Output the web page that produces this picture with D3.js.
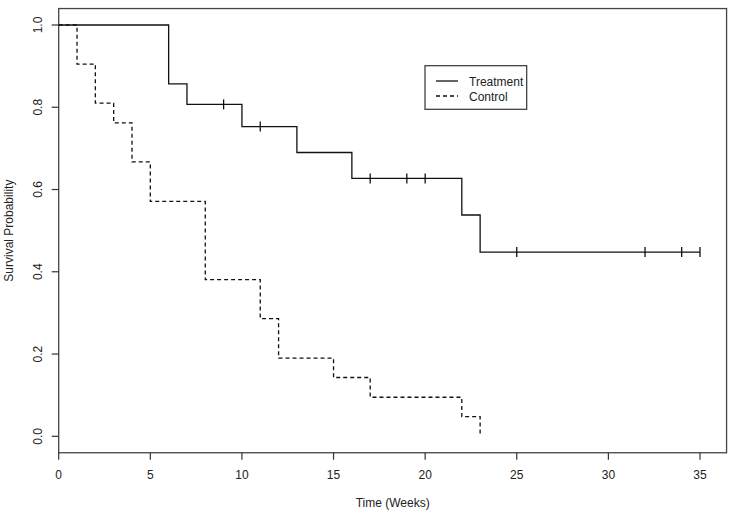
<!DOCTYPE html>
<html><head><meta charset="utf-8">
<script src="https://cdn.jsdelivr.net/npm/d3@7"></script>
<style>body{margin:0;background:#fff}svg{display:block}text{font-family:"Liberation Sans",Arial,sans-serif;fill:#222}</style>
</head><body>
<script>
const treatTimes = [0, 6, 7, 10, 13, 16, 22, 23, 35];
const treatSurv  = [1.0, 0.857, 0.807, 0.753, 0.690, 0.627, 0.538, 0.448, 0.448];
const treatCensorTimes = [9, 11, 17, 19, 20, 25, 32, 34, 35];
const ctrlTimes = [0, 1, 2, 3, 4, 5, 8, 11, 12, 15, 17, 22, 23];
const ctrlSurv  = [1.0, 0.905, 0.810, 0.762, 0.667, 0.571, 0.381, 0.286, 0.190, 0.143, 0.095, 0.048, 0.0];
const xTicks = [0, 5, 10, 15, 20, 25, 30, 35];
const yTicks = [0.0, 0.2, 0.4, 0.6, 0.8, 1.0];
const seriesNames = ["Treatment", "Control"];

const W = 737, H = 514;
const svg = d3.select("body").append("svg").attr("width", W).attr("height", H);
const x = d3.scaleLinear().domain([0, 35]).range([58.7, 700]);
const y = d3.scaleLinear().domain([0, 1]).range([436.3, 25]);
const box = {l: x(0), r: x(36.45), t: y(1.04), b: y(-0.04)};

svg.append("rect").attr("x", box.l).attr("y", box.t).attr("width", box.r - box.l).attr("height", box.b - box.t)
  .attr("fill", "none").attr("stroke", "#444").attr("stroke-width", 1.3);

// x axis
const xa = svg.append("g");
xTicks.forEach(t => {
  xa.append("line").attr("x1", x(t)).attr("x2", x(t)).attr("y1", box.b).attr("y2", box.b + 7).attr("stroke", "#333").attr("stroke-width", 1.2);
  xa.append("text").attr("x", x(t)).attr("y", box.b + 26).attr("text-anchor", "middle").attr("font-size", 12).text(t);
});
// y axis
const ya = svg.append("g");
yTicks.forEach(t => {
  ya.append("line").attr("x1", box.l - 7).attr("x2", box.l).attr("y1", y(t)).attr("y2", y(t)).attr("stroke", "#333").attr("stroke-width", 1.2);
  ya.append("text").attr("transform", `translate(${box.l - 17},${y(t)}) rotate(-90)`).attr("text-anchor", "middle").attr("font-size", 12).text(t.toFixed(1));
});
svg.append("text").attr("x", (box.l + box.r) / 2).attr("y", 507).attr("text-anchor", "middle").attr("font-size", 12).text("Time (Weeks)");
svg.append("text").attr("transform", `translate(13,${(box.t + box.b) / 2}) rotate(-90)`).attr("text-anchor", "middle").attr("font-size", 12).text("Survival Probability");

const line = d3.line().x(d => x(d[0])).y(d => y(d[1])).curve(d3.curveStepAfter);
const tData = treatTimes.map((t, i) => [t, treatSurv[i]]);
const cData = ctrlTimes.map((t, i) => [t, ctrlSurv[i]]);
svg.append("path").attr("d", line(tData)).attr("fill", "none").attr("stroke", "#111").attr("stroke-width", 1.3);
svg.append("path").attr("d", line(cData)).attr("fill", "none").attr("stroke", "#111").attr("stroke-width", 1.3).attr("stroke-dasharray", "4,3");

const survAt = t => { let s = 1; treatTimes.forEach((tt, i) => { if (tt <= t) s = treatSurv[i]; }); return s; };
treatCensorTimes.forEach(t => {
  svg.append("line").attr("x1", x(t)).attr("x2", x(t)).attr("y1", y(survAt(t)) - 5).attr("y2", y(survAt(t)) + 5).attr("stroke", "#111").attr("stroke-width", 1.3);
});

// legend
const lg = svg.append("g");
lg.append("rect").attr("x", 425).attr("y", 65.7).attr("width", 101.7).attr("height", 43.6).attr("fill", "#fff").attr("stroke", "#333").attr("stroke-width", 1.2);
seriesNames.forEach((n, i) => {
  const yy = 81 + i * 15;
  lg.append("line").attr("x1", 436).attr("x2", 458).attr("y1", yy).attr("y2", yy).attr("stroke", "#111").attr("stroke-width", 1.3).attr("stroke-dasharray", i ? "4,3" : null);
  lg.append("text").attr("x", 469).attr("y", yy + 4.5).attr("font-size", 12).text(n);
});
</script>
</body></html>
